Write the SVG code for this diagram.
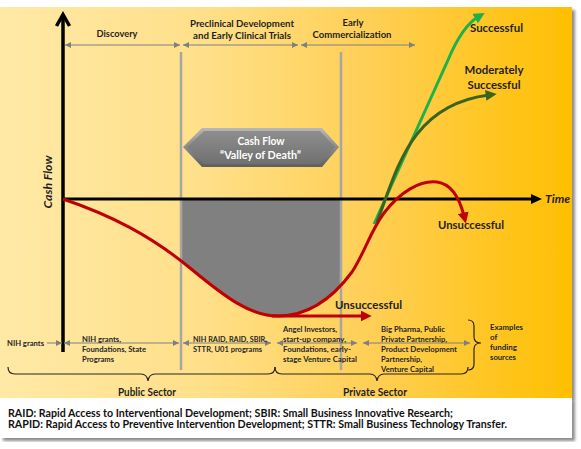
<svg xmlns="http://www.w3.org/2000/svg" width="581" height="449" viewBox="0 0 581 449">
<defs>
<linearGradient id="bg" x1="0" y1="0" x2="1" y2="0">
<stop offset="0" stop-color="#FFE9A6"/>
<stop offset="0.35" stop-color="#FFE08A"/>
<stop offset="0.65" stop-color="#FFCF55"/>
<stop offset="1" stop-color="#FFBF00"/>
</linearGradient>
<linearGradient id="boxOuter" x1="0" y1="0" x2="0" y2="1">
<stop offset="0" stop-color="#B8B8B8"/>
<stop offset="1" stop-color="#5E5E5E"/>
</linearGradient>
<linearGradient id="boxInner" x1="0" y1="0" x2="0" y2="1">
<stop offset="0" stop-color="#8E8E8E"/>
<stop offset="1" stop-color="#707070"/>
</linearGradient>
<filter id="shadow" x="-5%" y="-5%" width="115%" height="115%">
<feGaussianBlur in="SourceAlpha" stdDeviation="1.5"/>
<feOffset dx="3" dy="3" result="b"/>
<feComponentTransfer><feFuncA type="linear" slope="0.45"/></feComponentTransfer>
<feMerge><feMergeNode/><feMergeNode in="SourceGraphic"/></feMerge>
</filter>
<clipPath id="valleyClip"><rect x="181" y="199" width="160" height="140"/></clipPath>
<marker id="redHead" markerUnits="userSpaceOnUse" viewBox="0 0 10 10" markerWidth="11" markerHeight="11" refX="3" refY="5" orient="auto"><path d="M0,0 L10,5 L0,10 z" fill="#C00000"/></marker>
<marker id="greenHead" markerUnits="userSpaceOnUse" viewBox="0 0 10 10" markerWidth="11" markerHeight="11" refX="3" refY="5" orient="auto"><path d="M0,0 L10,5 L0,10 z" fill="#1DB14B"/></marker>
<marker id="dgreenHead" markerUnits="userSpaceOnUse" viewBox="0 0 10 10" markerWidth="11" markerHeight="11" refX="3" refY="5" orient="auto"><path d="M0,0 L10,5 L0,10 z" fill="#3A6321"/></marker>
<marker id="grayHead" markerUnits="userSpaceOnUse" viewBox="0 0 10 10" markerWidth="6" markerHeight="6" refX="10" refY="5" orient="auto-start-reverse"><path d="M0,0 L10,5 L0,10 z" fill="#7F7F7F"/></marker>
<style>
text{font-family:Lato,"Liberation Sans",sans-serif;font-weight:bold;fill:#1F1F1F}
.ph{font-size:10px}
.out{font-size:12px}
.fund{font-size:8px;fill:#262626}
.sec{font-size:11px}
.foot{font-size:10.5px;fill:#111}
.white{fill:#FFFFFF;font-size:10.5px}
.gline{stroke:#A6A6A6;stroke-width:2.5;fill:none}
.garrow{stroke:#7F7F7F;stroke-width:1;fill:none;marker-start:url(#grayHead);marker-end:url(#grayHead)}
.brace{stroke:#262626;stroke-width:1.2;fill:none}
.red{stroke:#C00000;stroke-width:3;fill:none}
</style>
</defs>

<rect x="0" y="0" width="581" height="449" fill="#FFFFFF"/>
<g id="panel" filter="url(#shadow)">
<rect x="0" y="7" width="572" height="391" fill="url(#bg)"/>
</g>

<g id="footnote" filter="url(#shadow)">
<rect x="0" y="398" width="572" height="40" fill="#FFFFFF"/>
</g>
<g id="footnote-text">
<text class="foot" x="8" y="416.5" textLength="445" lengthAdjust="spacingAndGlyphs">RAID: Rapid Access to Interventional Development; SBIR: Small Business Innovative Research;</text>
<text class="foot" x="8" y="427.5" textLength="499" lengthAdjust="spacingAndGlyphs">RAPID: Rapid Access to Preventive Intervention Development; STTR: Small Business Technology Transfer.</text>
</g>

<g id="valley-area" clip-path="url(#valleyClip)">
<path d="M63,199 C110,215 150,235 190,268 C225,297 250,316 278,316 C310,316 335,295 352,272 L352,199 Z" fill="#808080"/>
</g>

<g id="phase-dividers">
<line class="gline" x1="181" y1="52" x2="181" y2="370"/>
<line class="gline" x1="341" y1="52" x2="341" y2="370"/>
</g>

<g id="axes">
<line x1="63" y1="199" x2="533" y2="199" stroke="#000" stroke-width="3"/>
<polygon points="531,194 542,199 531,204" fill="#000"/>
<line x1="63" y1="352" x2="63" y2="16" stroke="#000" stroke-width="3.5"/>
<polyline points="56.5,26 63,14.5 69.5,26" fill="none" stroke="#000" stroke-width="3.5" stroke-linejoin="miter"/>
<text id="time-label" x="545" y="203" font-size="12" font-style="italic" textLength="25" lengthAdjust="spacingAndGlyphs">Time</text>
<text id="cashflow-label" transform="translate(51.5,182) rotate(-90)" text-anchor="middle" font-size="12" font-style="italic" textLength="53" lengthAdjust="spacingAndGlyphs">Cash Flow</text>
</g>

<g id="connectors">
<line class="garrow" x1="65" y1="45" x2="180" y2="45"/>
<line class="garrow" x1="183" y1="45" x2="298" y2="45"/>
<line class="garrow" x1="301" y1="45" x2="415" y2="45"/>
<line x1="47" y1="343" x2="62" y2="343" stroke="#7F7F7F" stroke-width="1" marker-end="url(#grayHead)"/>
<line class="garrow" x1="64" y1="343" x2="179" y2="343"/>
<line class="garrow" x1="183" y1="343" x2="271" y2="343"/>
<line class="garrow" x1="277" y1="343" x2="357" y2="343"/>
<line class="garrow" x1="363" y1="343" x2="470" y2="343"/>
<path id="success-curve" d="M374,224 L448,60 C456,41 466,24 478,17" stroke="#1DB14B" stroke-width="3" fill="none" marker-end="url(#greenHead)"/>
<path id="moderate-curve" d="M377,222 C397,170 410,105 489,95" stroke="#3A6321" stroke-width="3" fill="none" marker-end="url(#dgreenHead)"/>
<path id="cash-curve" class="red" d="M63,199 C110,215 150,235 190,268 C225,297 250,316 278,316 C310,316 335,295 352,272 C365,252 370,232 384,213 C400,192 420,180 437,182 C452,184 460,200 464,216" marker-end="url(#redHead)"/>
<path id="fail-early" class="red" d="M272,316 L364,316" marker-end="url(#redHead)"/>
</g>

<g id="phase-labels">
<text class="ph" x="117" y="37.3" text-anchor="middle" textLength="41" lengthAdjust="spacingAndGlyphs">Discovery</text>
<text class="ph" x="242" y="27.3" text-anchor="middle" textLength="104" lengthAdjust="spacingAndGlyphs">Preclinical Development</text>
<text class="ph" x="242" y="39" text-anchor="middle" textLength="98" lengthAdjust="spacingAndGlyphs">and Early Clinical Trials</text>
<text class="ph" x="353" y="25.7" text-anchor="middle" textLength="21" lengthAdjust="spacingAndGlyphs">Early</text>
<text class="ph" x="352" y="37.7" text-anchor="middle" textLength="79" lengthAdjust="spacingAndGlyphs">Commercialization</text>
</g>

<g id="valley-box">
<polygon points="183,147 202,128 322,128 339,147 322,167 202,167" fill="url(#boxOuter)"/>
<polygon points="187,147 204,131 320,131 335,147 320,164 204,164" fill="url(#boxInner)"/>
<text class="white" x="261" y="145" text-anchor="middle" textLength="47" lengthAdjust="spacingAndGlyphs">Cash Flow</text>
<text class="white" x="260.5" y="159" text-anchor="middle" textLength="81" lengthAdjust="spacingAndGlyphs">“Valley of Death”</text>
</g>

<g id="outcome-labels">
<text class="out" x="496.5" y="32.3" text-anchor="middle" textLength="53" lengthAdjust="spacingAndGlyphs">Successful</text>
<text class="out" x="494" y="74" text-anchor="middle" textLength="59" lengthAdjust="spacingAndGlyphs">Moderately</text>
<text class="out" x="494" y="89.3" text-anchor="middle" textLength="53" lengthAdjust="spacingAndGlyphs">Successful</text>
<text class="out" x="471" y="229" text-anchor="middle" textLength="66" lengthAdjust="spacingAndGlyphs">Unsuccessful</text>
<text class="out" x="368.5" y="309" text-anchor="middle" textLength="67" lengthAdjust="spacingAndGlyphs">Unsuccessful</text>
</g>

<g id="funding-sources">
<text class="fund" x="7" y="345.5" textLength="37" lengthAdjust="spacingAndGlyphs">NIH grants</text>
<text class="fund" x="82" y="341.7" textLength="39" lengthAdjust="spacingAndGlyphs">NIH grants,</text>
<text class="fund" x="82" y="351.7" textLength="64" lengthAdjust="spacingAndGlyphs">Foundations, State</text>
<text class="fund" x="82" y="361.7" textLength="32" lengthAdjust="spacingAndGlyphs">Programs</text>
<text class="fund" x="193" y="341.7" textLength="74" lengthAdjust="spacingAndGlyphs">NIH RAID, RAID, SBIR,</text>
<text class="fund" x="193" y="351.7" textLength="69" lengthAdjust="spacingAndGlyphs">STTR, U01 programs</text>
<text class="fund" x="283" y="331.7" textLength="54" lengthAdjust="spacingAndGlyphs">Angel Investors,</text>
<text class="fund" x="283" y="341.7" textLength="63" lengthAdjust="spacingAndGlyphs">start-up company,</text>
<text class="fund" x="283" y="351.7" textLength="68" lengthAdjust="spacingAndGlyphs">Foundations, early-</text>
<text class="fund" x="283" y="361.7" textLength="74" lengthAdjust="spacingAndGlyphs">stage Venture Capital</text>
<text class="fund" x="381" y="331.7" textLength="64" lengthAdjust="spacingAndGlyphs">Big Pharma, Public</text>
<text class="fund" x="381" y="341.7" textLength="66" lengthAdjust="spacingAndGlyphs">Private Partnership,</text>
<text class="fund" x="381" y="351.7" textLength="76" lengthAdjust="spacingAndGlyphs">Product Development</text>
<text class="fund" x="381" y="361.7" textLength="41" lengthAdjust="spacingAndGlyphs">Partnership,</text>
<text class="fund" x="381" y="371.7" textLength="53" lengthAdjust="spacingAndGlyphs">Venture Capital</text>
<text class="fund" x="490" y="330" textLength="33" lengthAdjust="spacingAndGlyphs">Examples</text>
<text class="fund" x="490" y="340">of</text>
<text class="fund" x="490" y="350" textLength="27" lengthAdjust="spacingAndGlyphs">funding</text>
<text class="fund" x="490" y="360" textLength="26" lengthAdjust="spacingAndGlyphs">sources</text>
</g>

<g id="sectors">
<path class="brace" d="M8,367 Q8,374 15,374 L141,374 Q147,374 148,381 Q149,374 155,374 L268,374 Q275,374 275,367"/>
<path class="brace" d="M275,367 Q275,374 282,374 L370,374 Q376,374 377,381 Q378,374 384,374 L461,374 Q468,374 468,367"/>
<path class="brace" d="M468,320 Q474,320 474,326 L474,337 Q474,343 481,343 Q474,343 474,349 L474,364 Q474,370 468,370"/>
<text class="sec" x="147" y="396" text-anchor="middle" textLength="58" lengthAdjust="spacingAndGlyphs">Public Sector</text>
<text class="sec" x="375" y="396" text-anchor="middle" textLength="64" lengthAdjust="spacingAndGlyphs">Private Sector</text>
</g>
</svg>
